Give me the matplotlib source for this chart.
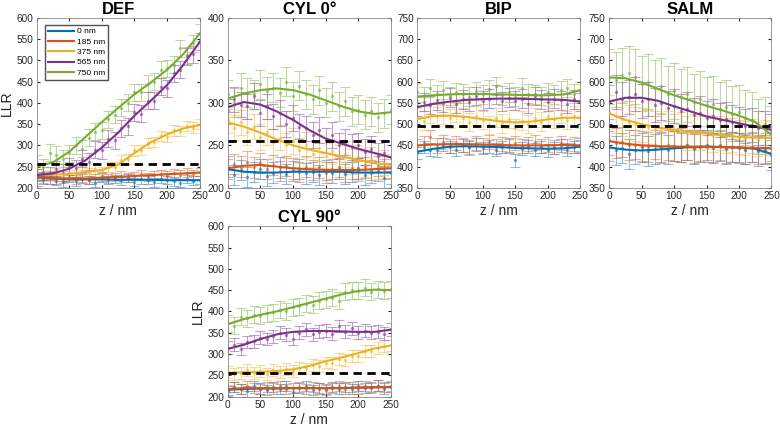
import matplotlib
matplotlib.use("Agg")
import matplotlib.pyplot as plt
import numpy as np

plt.rcParams["font.family"] = ["Liberation Sans", "DejaVu Sans"]

Z_LINE = np.arange(0, 251, 25)
Z_DOTS = np.arange(0, 251, 10)

SERIES = ["0 nm", "185 nm", "375 nm", "565 nm", "750 nm"]
COLORS = ["#0072BD", "#D95319", "#EDB120", "#7E2F8E", "#77AC30"]

# ---------------- DEF ----------------
def_lines = [
    [225, 222, 220, 220, 220, 219, 219, 219, 218, 218, 218],
    [227, 223, 222, 222, 224, 226, 228, 230, 232, 234, 236],
    [230, 231, 233, 237, 242, 255, 282, 307, 326, 340, 348],
    [230, 234, 245, 265, 295, 330, 370, 405, 442, 490, 543],
    [250, 260, 285, 320, 355, 388, 420, 448, 478, 515, 563],
]
def_dots = [
    [226, 218, 228, 217, 213, 224, 215, 222, 219, 212, 224, 218, 221, 216, 223, 214, 220, 218, 213, 222, 219, 215, 212, 221, 217, 218],
    [228, 221, 230, 219, 222, 226, 220, 224, 219, 223, 227, 222, 225, 229, 224, 228, 232, 226, 230, 233, 229, 234, 231, 236, 232, 237],
    [232, 236, 227, 235, 228, 238, 231, 240, 235, 244, 238, 250, 248, 265, 268, 288, 290, 305, 308, 322, 320, 335, 333, 345, 342, 350],
    [225, 238, 228, 244, 236, 250, 246, 268, 262, 290, 288, 316, 312, 340, 345, 378, 375, 405, 405, 438, 435, 470, 478, 510, 515, 545],
    [258, 248, 283, 278, 268, 282, 300, 292, 318, 332, 336, 362, 372, 388, 400, 425, 425, 445, 450, 478, 482, 490, 528, 512, 540, 565],
]
def_err = [10, 10, 12, 20, 20]

# ---------------- CYL 0° ----------------
cyl0_lines = [
    [222, 219, 218, 218, 219, 219, 219, 219, 218, 218, 218],
    [223, 226, 227, 225, 223, 222, 221, 221, 221, 222, 223],
    [277, 272, 265, 257, 250, 245, 241, 237, 233, 229, 227],
    [295, 301, 298, 290, 280, 268, 258, 252, 246, 241, 236],
    [305, 311, 315, 317, 315, 310, 303, 296, 290, 287, 289],
]
cyl0_dots = [
    [225, 215, 221, 213, 219, 222, 214, 218, 224, 216, 220, 222, 217, 219, 215, 221, 218, 222, 216, 219, 223, 215, 218, 220, 212, 217],
    [222, 228, 225, 231, 224, 229, 222, 227, 220, 226, 223, 219, 225, 221, 224, 218, 222, 225, 219, 223, 220, 224, 221, 226, 222, 224],
    [280, 271, 277, 266, 272, 260, 266, 254, 259, 250, 255, 244, 251, 240, 247, 238, 243, 235, 240, 231, 236, 228, 233, 226, 230, 225],
    [290, 304, 298, 296, 308, 288, 296, 284, 288, 275, 282, 272, 270, 262, 268, 256, 262, 250, 254, 248, 250, 242, 246, 238, 241, 235],
    [310, 300, 318, 312, 310, 322, 314, 318, 312, 325, 308, 320, 310, 304, 315, 300, 308, 296, 302, 290, 292, 286, 290, 283, 288, 292],
]
cyl0_err = [12, 12, 15, 15, 17]

# ---------------- BIP ----------------
bip_lines = [
    [435, 442, 447, 448, 447, 446, 444, 443, 442, 443, 447],
    [450, 452, 453, 453, 452, 451, 450, 450, 450, 451, 450],
    [512, 519, 520, 517, 512, 507, 504, 506, 511, 515, 515],
    [540, 548, 553, 557, 559, 560, 560, 559, 558, 557, 553],
    [565, 568, 570, 571, 571, 570, 569, 568, 568, 570, 580],
]
bip_dots = [
    [432, 446, 440, 438, 452, 446, 440, 450, 445, 452, 444, 448, 440, 446, 450, 415, 442, 448, 440, 446, 438, 444, 450, 440, 446, 448],
    [448, 455, 470, 450, 458, 448, 456, 451, 445, 455, 450, 458, 447, 453, 450, 456, 448, 453, 457, 449, 452, 446, 455, 449, 453, 451],
    [515, 508, 525, 518, 522, 514, 528, 515, 505, 520, 510, 498, 515, 502, 512, 490, 508, 500, 515, 506, 520, 512, 524, 510, 520, 514],
    [542, 552, 545, 556, 550, 562, 548, 558, 552, 566, 555, 560, 570, 554, 562, 555, 560, 548, 566, 558, 552, 560, 556, 548, 558, 552],
    [575, 565, 585, 570, 580, 566, 575, 572, 565, 578, 570, 582, 590, 568, 575, 565, 586, 572, 570, 566, 575, 570, 580, 585, 572, 578],
]
bip_err = [15, 17, 22, 22, 22]

# ---------------- SALM ----------------
salm_lines = [
    [445, 440, 438, 440, 443, 446, 447, 446, 445, 442, 430],
    [460, 454, 450, 448, 447, 447, 447, 446, 445, 444, 443],
    [525, 510, 500, 492, 487, 482, 478, 473, 470, 468, 468],
    [553, 562, 562, 555, 542, 530, 518, 510, 502, 494, 487],
    [610, 608, 598, 583, 568, 556, 543, 532, 520, 505, 475],
]
salm_dots = [
    [448, 438, 444, 430, 440, 445, 436, 442, 446, 440, 448, 445, 450, 442, 446, 451, 444, 448, 441, 446, 443, 440, 445, 436, 440, 428],
    [462, 455, 458, 450, 452, 448, 446, 452, 444, 450, 448, 446, 451, 444, 449, 447, 445, 450, 443, 447, 445, 442, 446, 440, 444, 443],
    [528, 520, 512, 505, 500, 498, 494, 490, 486, 492, 485, 488, 480, 484, 478, 481, 475, 478, 472, 474, 470, 468, 472, 466, 470, 467],
    [552, 575, 560, 565, 570, 555, 560, 545, 550, 538, 542, 530, 535, 522, 526, 515, 518, 510, 512, 504, 500, 496, 498, 490, 492, 485],
    [612, 605, 615, 620, 612, 595, 600, 585, 590, 572, 578, 565, 570, 552, 560, 545, 548, 535, 540, 525, 528, 515, 510, 495, 500, 478],
]
salm_err = [35, 35, 40, 40, 65]

# ---------------- CYL 90° ----------------
cyl90_lines = [
    [216, 218, 219, 219, 220, 220, 220, 220, 221, 222, 222],
    [218, 220, 220, 220, 220, 220, 220, 220, 221, 222, 223],
    [256, 257, 258, 260, 264, 272, 283, 292, 302, 313, 320],
    [312, 322, 335, 346, 352, 354, 354, 353, 352, 352, 357],
    [370, 382, 392, 400, 410, 420, 430, 440, 448, 451, 450],
]
cyl90_dots = [
    [214, 222, 218, 212, 224, 219, 216, 222, 218, 225, 210, 220, 224, 216, 221, 218, 223, 219, 222, 218, 224, 220, 222, 226, 219, 223],
    [216, 222, 218, 224, 220, 217, 222, 219, 224, 218, 221, 223, 217, 222, 219, 216, 221, 224, 219, 222, 218, 224, 221, 226, 223, 224],
    [258, 252, 256, 262, 255, 260, 254, 262, 258, 265, 260, 268, 266, 274, 272, 280, 278, 288, 287, 295, 296, 306, 308, 314, 318, 320],
    [315, 322, 312, 328, 330, 338, 335, 342, 350, 345, 336, 350, 358, 346, 352, 355, 348, 366, 352, 360, 350, 355, 350, 352, 348, 358],
    [372, 366, 388, 384, 392, 390, 396, 398, 404, 400, 410, 412, 418, 416, 425, 428, 432, 425, 446, 450, 448, 456, 446, 452, 448, 452],
]
cyl90_err = [12, 12, 14, 15, 20]

# title, lines, dots, err, ylim, threshold, axes rect, ylabel, xlabel
PANELS = [
    ("DEF", def_lines, def_dots, def_err, (200, 600), 255, [0.047, 0.559, 0.209, 0.399], True, True),
    ("CYL 0°", cyl0_lines, cyl0_dots, cyl0_err, (200, 400), 255, [0.292, 0.559, 0.209, 0.399], False, False),
    ("BIP", bip_lines, bip_dots, bip_err, (350, 750), 495, [0.535, 0.559, 0.209, 0.399], False, True),
    ("SALM", salm_lines, salm_dots, salm_err, (350, 750), 495, [0.781, 0.559, 0.208, 0.399], False, True),
    ("CYL 90°", cyl90_lines, cyl90_dots, cyl90_err, (200, 600), 255, [0.292, 0.069, 0.209, 0.400], True, True),
]

fig = plt.figure(figsize=(7.8, 4.26), dpi=100)

for title, lines, dots, errs, ylim, thr, rect, ylab, xlab in PANELS:
    ax = fig.add_axes(rect)
    for k in range(5):
        ax.errorbar(Z_DOTS, dots[k], yerr=errs[k], fmt="o", ms=1.5,
                    color=COLORS[k], ecolor=COLORS[k], elinewidth=0.8,
                    capsize=3.5, capthick=0.8, alpha=0.45, zorder=2)
    for k in range(5):
        ax.plot(Z_LINE, lines[k], color=COLORS[k], lw=1.5, label=SERIES[k], zorder=3)
    ax.plot([0, 250], [thr, thr], color="black", ls=(0, (3, 2)), lw=2, zorder=4)

    ax.set_xlim(0, 250)
    ax.set_ylim(*ylim)
    ax.set_xticks(np.arange(0, 251, 50))
    ax.set_yticks(np.arange(ylim[0], ylim[1] + 1, 50))
    ax.tick_params(direction="in", length=2.5, labelsize=7.2, colors="#262626",
                   top=True, right=True, pad=2.5)
    for s in ax.spines.values():
        s.set_color("#888888")
        s.set_linewidth(0.6)
    ax.set_title(title, fontsize=12, fontweight="bold", pad=3)
    if xlab:
        ax.set_xlabel("z / nm", fontsize=10, color="#262626", labelpad=2)
    if ylab:
        ax.set_ylabel("LLR", fontsize=10, color="#262626", labelpad=2)
    if title == "DEF":
        ax.legend(loc="upper left", fontsize=6, frameon=True, fancybox=False,
                  edgecolor="#262626", handlelength=3.2, handletextpad=0.3,
                  borderpad=0.35, labelspacing=0.3, borderaxespad=0,
                  bbox_to_anchor=(0.05, 0.96))

plt.savefig("out.png", dpi=100)
